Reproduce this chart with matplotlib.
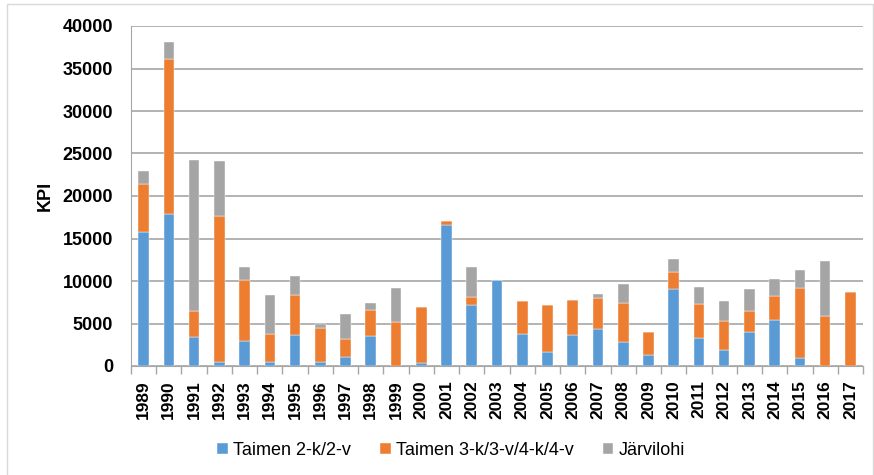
import numpy as np
import matplotlib
matplotlib.use("Agg")
import matplotlib.pyplot as plt
from matplotlib.patches import Rectangle

YEARS = list(range(1989, 2018))
# KPI per series (stacked segments)
TAIMEN_2V = [15800, 17840, 3450, 470, 2940, 470, 3650, 430, 1020, 3490,
             0, 310, 16550, 7180, 10120, 3760, 1610, 3610, 4310, 2820,
             1330, 9060, 3330, 1880, 3960, 5410, 980, 0, 0]
TAIMEN_34V = [5570, 18320, 3060, 17220, 7220, 3290, 4660, 4080, 2200, 3140,
              5220, 6590, 550, 980, 0, 3930, 5570, 4190, 3730, 4630,
              2630, 2040, 3960, 3450, 2510, 2830, 8240, 5840, 8670]
JARVILOHI = [1570, 1960, 17760, 6430, 1450, 4550, 2320, 390, 2860, 780,
             4000, 0, 0, 3450, 0, 0, 0, 0, 430, 2200,
             0, 1490, 1960, 2280, 2590, 2030, 2070, 6510, 0]

LABELS = ["Taimen 2-k/2-v", "Taimen 3-k/3-v/4-k/4-v", "Järvilohi"]
COLORS = ["#5B9BD5", "#ED7D31", "#A5A5A5"]

plt.rcParams["font.family"] = ["Liberation Sans", "DejaVu Sans"]

fig = plt.figure(figsize=(8.74, 4.75), dpi=100)
fig.patches.append(Rectangle((7 / 874, -0.01), 866 / 874, 1 - 4 / 475 + 0.01,
                             transform=fig.transFigure, fill=False,
                             edgecolor="#D9D9D9", lw=1.0))
ax = fig.add_axes([131 / 874, 109 / 475, 732 / 874, 340 / 475])

x = np.arange(len(YEARS))
bottom = np.zeros(len(YEARS))
for vals, lab, col in zip([TAIMEN_2V, TAIMEN_34V, JARVILOHI], LABELS, COLORS):
    vals = np.array(vals, dtype=float)
    ax.bar(x, vals, 0.42, bottom=bottom, color=col, label=lab,
           edgecolor="white", linewidth=0.3, zorder=3)
    bottom += vals

ax.set_xlim(-0.5, len(YEARS) - 0.5)
ax.set_ylim(0, 40000)
ax.set_yticks(np.arange(0, 40001, 5000))
ax.tick_params(axis="y", length=0, pad=13, labelsize=13)
for t in ax.get_yticklabels():
    t.set_fontweight("bold")

ax.set_xticks(x)
ax.set_xticklabels([str(y) for y in YEARS], rotation=90, fontsize=12.5,
                   fontweight="bold")
ax.set_xticks(np.arange(-0.5, len(YEARS), 1), minor=True)
ax.tick_params(axis="x", which="major", length=0, pad=10)
ax.tick_params(axis="x", which="minor", length=6, color="#A6A6A6", width=1)

ax.grid(axis="y", color="#A6A6A6", lw=1.2, zorder=0)
for s in ["top", "right"]:
    ax.spines[s].set_visible(False)
ax.spines["left"].set_color("#A6A6A6")
ax.spines["bottom"].set_color("#A6A6A6")

ax.set_ylabel("KPI", fontsize=13, fontweight="bold", labelpad=6)

fig.legend(loc="lower center", bbox_to_anchor=(0.516, 0.0), ncol=3,
           frameon=False, fontsize=13, handlelength=0.6, handleheight=0.6,
           columnspacing=1.6, handletextpad=0.3)

fig.savefig("out.png", dpi=100)
